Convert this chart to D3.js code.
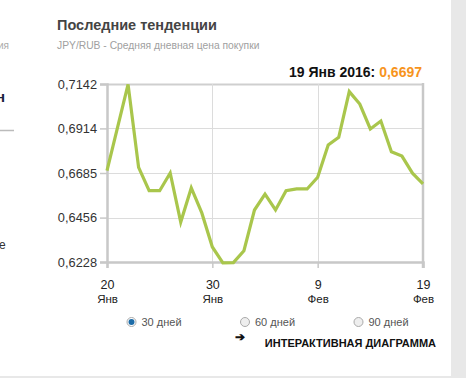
<!DOCTYPE html>
<html lang="ru">
<head>
    <meta charset="UTF-8">
    <script src="https://d3js.org/d3.v7.min.js"></script>
    <style>
        body { margin: 0; background: #fff; }
        text { font-family: Arial, "Liberation Sans", sans-serif; }
    </style>
</head>
<body>
    <svg id="chart" width="466" height="378"></svg>
    <script>
        // даты (день от 20 янв 2016) и курс JPY/RUB
        const days = ["2016-01-20", "2016-01-22", "2016-01-23", "2016-01-24", "2016-01-25", "2016-01-26",
            "2016-01-27", "2016-01-28", "2016-01-29", "2016-01-30", "2016-01-31", "2016-02-01", "2016-02-02",
            "2016-02-03", "2016-02-04", "2016-02-05", "2016-02-06", "2016-02-07", "2016-02-08", "2016-02-09",
            "2016-02-10", "2016-02-11", "2016-02-12", "2016-02-13", "2016-02-14", "2016-02-15", "2016-02-16",
            "2016-02-17", "2016-02-18", "2016-02-19"];
        const rates = [0.6697, 0.7140, 0.6714, 0.6594, 0.6594, 0.6685,
            0.6433, 0.6608, 0.6480, 0.6305, 0.6224, 0.6225, 0.6286,
            0.6495, 0.6576, 0.6495, 0.6594, 0.6603, 0.6603, 0.6663,
            0.6829, 0.6868, 0.7103, 0.7039, 0.6911, 0.6952, 0.6794,
            0.6772, 0.6684, 0.6629];
        const yTicks = [0.6228, 0.6456, 0.6685, 0.6914, 0.7142];
        const xTicks = ["2016-01-20", "2016-01-30", "2016-02-09", "2016-02-19"];
        const monthNames = ["Янв", "Фев"];
        const periods = ["30 дней", "60 дней", "90 дней"];

        const parse = d3.timeParse("%Y-%m-%d");
        const data = days.map((d, i) => ({ date: parse(d), value: rates[i] }));

        const margin = { top: 84, left: 107, right: 43, bottom: 116 };
        const width = 466, height = 378;

        const svg = d3.select("#chart");

        // серая полоса справа и снизу
        svg.append("rect").attr("x", 451).attr("y", 0).attr("width", 15).attr("height", height).attr("fill", "#e8e8e8");
        svg.append("rect").attr("x", 0).attr("y", 376).attr("width", 451).attr("height", 2).attr("fill", "#e8e8e8");

        // обрезки соседнего блока слева
        svg.append("text").attr("x", -2).attr("y", 49).style("font-size", "10px").attr("fill", "#aaa").text("ия");
        svg.append("text").attr("x", -4).attr("y", 102).style("font-size", "15px").style("font-weight", "bold").attr("fill", "#1a2540").text("н");
        svg.append("line").attr("x1", 0).attr("x2", 14).attr("y1", 130.5).attr("y2", 130.5).attr("stroke", "#bbb").attr("stroke-width", 1.5);
        svg.append("text").attr("x", -1).attr("y", 249).style("font-size", "12px").attr("fill", "#333").text("е");

        svg.append("text")
            .attr("x", 57).attr("y", 30)
            .style("font-size", "14.5px").style("font-weight", "bold")
            .attr("fill", "#444")
            .text("Последние тенденции");

        svg.append("text")
            .attr("x", 57).attr("y", 49)
            .style("font-size", "10.3px")
            .attr("fill", "#a0a0a0")
            .text("JPY/RUB - Средняя дневная цена покупки");

        const head = svg.append("text")
            .attr("x", 422).attr("y", 77)
            .attr("text-anchor", "end")
            .style("font-size", "14px").style("font-weight", "bold");
        head.append("tspan").attr("fill", "#111").text("19 Янв 2016: ");
        head.append("tspan").attr("fill", "#f7941d").text("0,6697");

        const x = d3.scaleTime()
            .domain([parse(xTicks[0]), parse(xTicks[xTicks.length - 1])])
            .range([margin.left, width - margin.right]);
        const y = d3.scaleLinear()
            .domain([yTicks[0], yTicks[yTicks.length - 1]])
            .range([height - margin.bottom, margin.top]);

        // сетка
        svg.append("g")
            .selectAll("line")
            .data(yTicks.slice(1))
            .enter().append("line")
            .attr("x1", margin.left).attr("x2", width - margin.right)
            .attr("y1", d => Math.round(y(d)) + 0.5).attr("y2", d => Math.round(y(d)) + 0.5)
            .attr("stroke", d => d === yTicks[yTicks.length - 1] ? "#cfcfcf" : "#dcdcdc")
            .attr("stroke-width", d => d === yTicks[yTicks.length - 1] ? 2 : 1);
        svg.append("g")
            .selectAll("line")
            .data(xTicks.slice(1, -1))
            .enter().append("line")
            .attr("x1", d => Math.round(x(parse(d))) + 0.5).attr("x2", d => Math.round(x(parse(d))) + 0.5)
            .attr("y1", margin.top).attr("y2", height - margin.bottom)
            .attr("stroke", "#dcdcdc");

        // оси
        const yAxis = svg.append("g")
            .attr("transform", `translate(${margin.left},0)`)
            .call(d3.axisLeft(y).tickValues(yTicks).tickSize(7).tickPadding(3)
                .tickFormat(d => d3.format(".4f")(d).replace(".", ",")));
        yAxis.select(".domain").attr("stroke", "#c8c8c8").attr("stroke-width", 2.5);
        yAxis.selectAll(".tick line").attr("stroke", "#c8c8c8").attr("stroke-width", 1.5);
        yAxis.selectAll("text").style("font-size", "12.8px").attr("fill", "#333");

        const xAxis = svg.append("g")
            .attr("transform", `translate(0,${height - margin.bottom})`)
            .call(d3.axisBottom(x).tickValues(xTicks.map(parse)).tickSize(6).tickPadding(12)
                .tickFormat(d => d.getDate()));
        xAxis.select(".domain").attr("stroke", "#c8c8c8").attr("stroke-width", 2.5);
        xAxis.selectAll(".tick line").attr("stroke", "#c8c8c8").attr("stroke-width", 1.5);
        xAxis.selectAll(".tick text").style("font-size", "12.5px").attr("fill", "#222");
        xAxis.selectAll(".tick").append("text")
            .attr("y", 41).attr("fill", "#222")
            .attr("text-anchor", "middle")
            .style("font-size", "11.5px")
            .text(d => monthNames[d.getMonth()]);

        svg.append("line")
            .attr("x1", width - margin.right).attr("x2", width - margin.right)
            .attr("y1", margin.top - 1).attr("y2", height - margin.bottom + 6)
            .attr("stroke", "#c8c8c8").attr("stroke-width", 2.5);

        // линия курса
        svg.append("path")
            .datum(data)
            .attr("fill", "none")
            .attr("stroke", "#a9c64c")
            .attr("stroke-width", 3.2)
            .attr("stroke-linejoin", "miter")
            .attr("d", d3.line().x(d => x(d.date)).y(d => y(d.value)));

        // переключатели периода
        const radios = svg.append("g").selectAll("g")
            .data(periods)
            .enter().append("g")
            .attr("transform", (d, i) => `translate(${131.5 + i * 113.5},322)`);
        radios.append("circle")
            .attr("r", 4.5)
            .attr("fill", (d, i) => i === 0 ? "#fff" : "#eee")
            .attr("stroke", "#aaa");
        radios.filter((d, i) => i === 0).append("circle")
            .attr("r", 3).attr("fill", "#1d6ca8");
        radios.append("text")
            .attr("x", 10).attr("y", 4)
            .style("font-size", "11px")
            .attr("fill", "#555")
            .text(d => d);

        svg.append("text")
            .attr("x", 235).attr("y", 341)
            .style("font-size", "12px").style("font-weight", "bold")
            .attr("fill", "#111")
            .text("➔");
        svg.append("text")
            .attr("x", 436).attr("y", 347)
            .attr("text-anchor", "end")
            .style("font-size", "11px").style("font-weight", "bold")
            .attr("fill", "#111")
            .text("ИНТЕРАКТИВНАЯ ДИАГРАММА");
    </script>
</body>
</html>
